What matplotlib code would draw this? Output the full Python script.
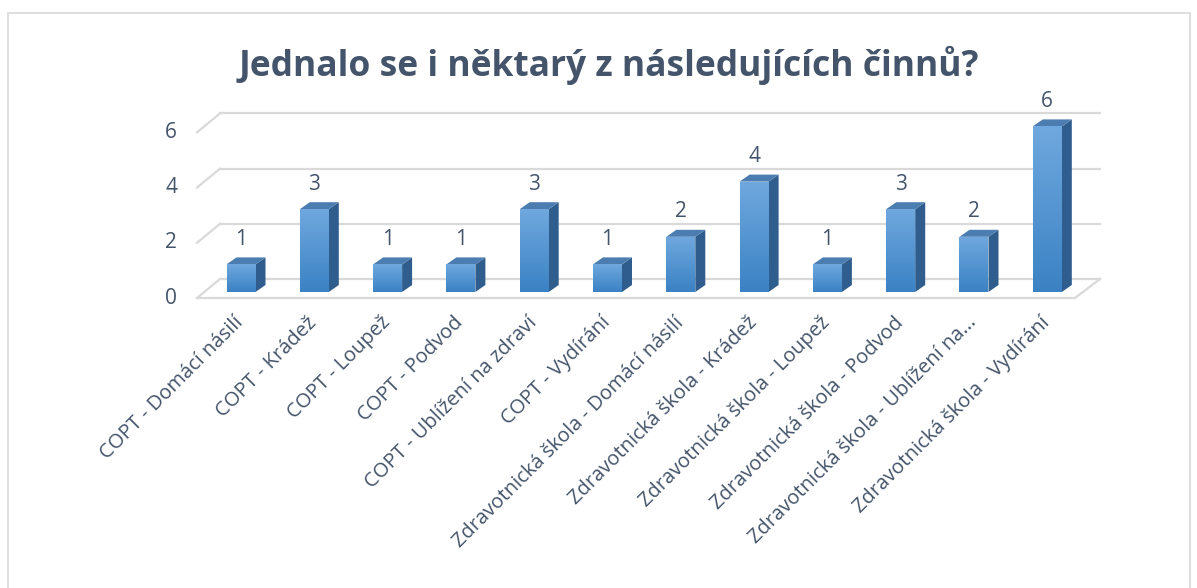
import numpy as np
import matplotlib.pyplot as plt
from matplotlib.patches import Polygon, Rectangle
from matplotlib.colors import LinearSegmentedColormap

categories = [
    "COPT - Domácí násilí", "COPT - Krádež", "COPT - Loupež", "COPT - Podvod",
    "COPT - Ublížení na zdraví", "COPT - Vydírání",
    "Zdravotnická škola - Domácí násilí", "Zdravotnická škola - Krádež",
    "Zdravotnická škola - Loupež", "Zdravotnická škola - Podvod",
    "Zdravotnická škola - Ublížení na...", "Zdravotnická škola - Vydírání",
]
values = [1, 3, 1, 1, 3, 1, 2, 4, 1, 3, 2, 6]
y_ticks = [0, 2, 4, 6]

text_col = "#44546A"
plt.rcParams['font.family'] = ['Open Sans', 'DejaVu Sans']

fig = plt.figure(figsize=(11.97, 5.88), dpi=100)
W, H = 1197, 588

# outer chart border
fig.patches.append(Rectangle((8 / W, -0.01), (1190 - 8) / W, (H - 13) / H + 0.01,
                             transform=fig.transFigure, fill=False,
                             edgecolor="#D9D9D9", lw=1.2))

fig.text(609 / W, 1 - 65 / H, "Jednalo se i něktarý z následujících činnů?",
         ha="center", va="center", fontsize=25.5, fontweight="bold", color=text_col)

left, right, top, bottom = 150, 1120, 100, 310
ax = fig.add_axes([left / W, 1 - bottom / H, (right - left) / W, (bottom - top) / H])
px_x, x0 = 73.3, 241
px_y, y0 = 27.6, 292
ax.set_xlim((left - x0) / px_x, (right - x0) / px_x)
ax.set_ylim((y0 - bottom) / px_y, (y0 - top) / px_y)
ax.axis("off")

n = len(values)
# floor / back wall geometry (data units)
front_l, front_r = (197 - x0) / px_x, (1075 - x0) / px_x
back_l, back_r = (220 - x0) / px_x, (1100 - x0) / px_x
front_dy = -6 / px_y
back_dy = 13 / px_y
grid_col = "#D9D9D9"
for t in y_ticks:
    ax.plot([back_l, back_r], [t + back_dy, t + back_dy], color=grid_col, lw=1.6, zorder=1)
    ax.plot([front_l, back_l], [t + front_dy, t + back_dy], color=grid_col, lw=1.6, zorder=1)
    ax.text(front_l - 26 / px_x, t + front_dy, str(t), ha="center", va="center",
            fontsize=15, color=text_col)
ax.plot([front_l, front_r], [front_dy, front_dy], color=grid_col, lw=1.6, zorder=1)
ax.plot([front_r, back_r], [front_dy, back_dy], color=grid_col, lw=1.6, zorder=1)

# bars with pseudo-3D faces
bw = 29 / px_x
ddx, ddy = 10 / px_x, 7 / px_y
grad = np.linspace(0, 1, 100).reshape(-1, 1)
cmap = LinearSegmentedColormap.from_list("b", ["#3B82C4", "#6FA8DE"])
xs = np.arange(n)
bars = ax.bar(xs, values, width=bw, color="#5B9BD5", zorder=3)
for x, v, b in zip(xs, values, bars):
    xl, xr = x - bw / 2, x + bw / 2
    im = ax.imshow(grad, extent=[xl, xr, 0, v], origin="lower", cmap=cmap,
                   aspect="auto", zorder=3.1)
    im.set_clip_path(b)
    ax.add_patch(Polygon([[xr, 0], [xr + ddx, ddy], [xr + ddx, v + ddy], [xr, v]],
                         closed=True, facecolor="#2F5E8E", edgecolor="none", zorder=3))
    ax.add_patch(Polygon([[xl, v], [xl + ddx, v + ddy], [xr + ddx, v + ddy], [xr, v]],
                         closed=True, facecolor="#4C7DB0", edgecolor="none", zorder=3))
    ax.text(x, v + 0.9, str(v), ha="center", va="center", fontsize=15, color=text_col)

for x, lab in zip(xs, categories):
    ax.text(x - 0.1, -0.75, lab, rotation=45, ha="right", va="top", rotation_mode="anchor",
            fontsize=14.5, color=text_col, clip_on=False)

fig.savefig("out.png", dpi=100)
